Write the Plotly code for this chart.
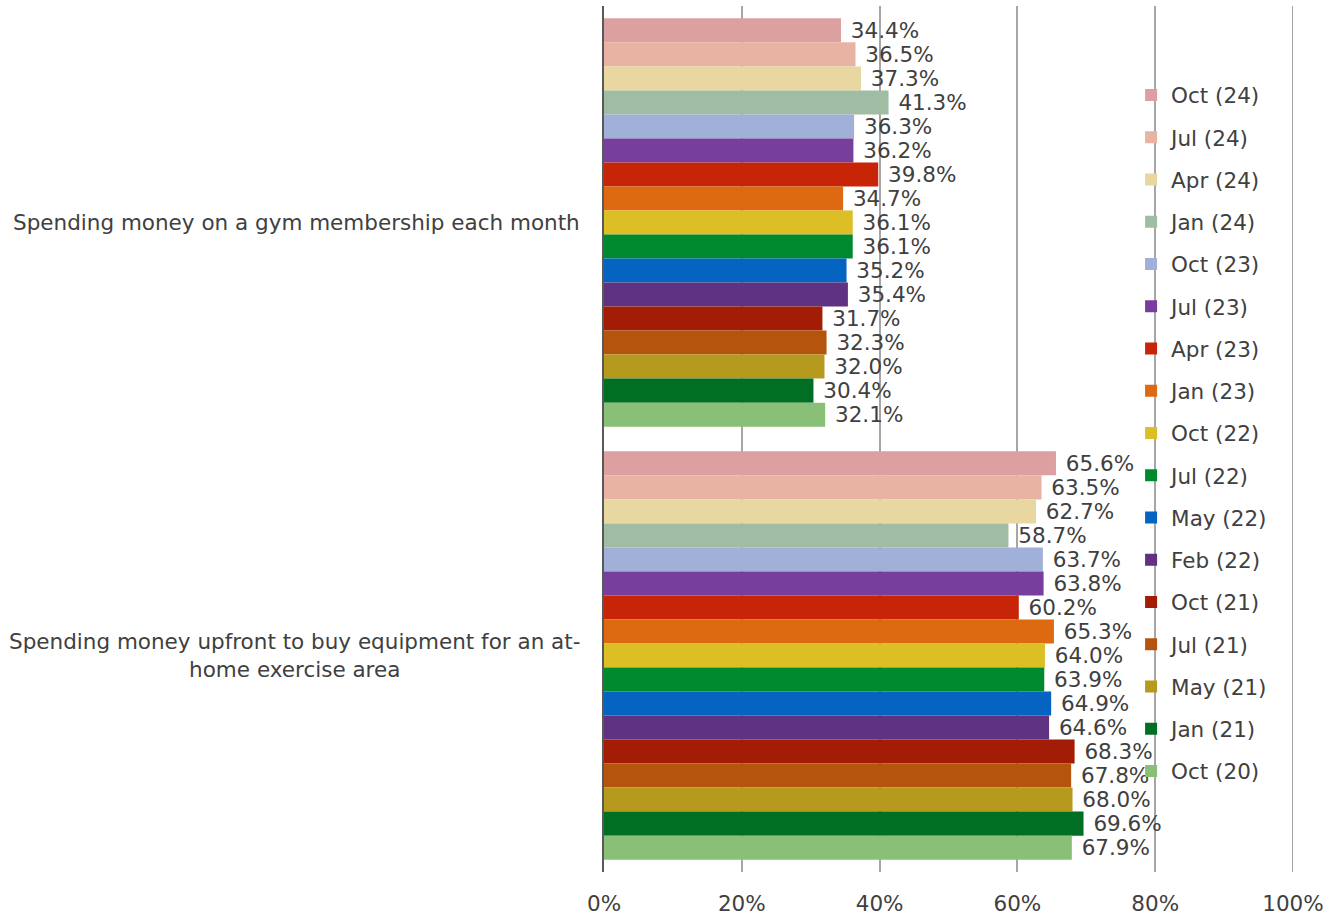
import plotly.graph_objects as go

# Survey statements (top to bottom)
categories = [
    "Spending money on a gym membership each month",
    "Spending money upfront to buy equipment for an at-<br>home exercise area",
]

# Survey waves, newest first
waves = [
    "Oct (24)", "Jul (24)", "Apr (24)", "Jan (24)", "Oct (23)", "Jul (23)",
    "Apr (23)", "Jan (23)", "Oct (22)", "Jul (22)", "May (22)", "Feb (22)",
    "Oct (21)", "Jul (21)", "May (21)", "Jan (21)", "Oct (20)",
]

# Share of respondents (%) per wave
gym_membership = [34.4, 36.5, 37.3, 41.3, 36.3, 36.2, 39.8, 34.7, 36.1,
                  36.1, 35.2, 35.4, 31.7, 32.3, 32.0, 30.4, 32.1]
home_equipment = [65.6, 63.5, 62.7, 58.7, 63.7, 63.8, 60.2, 65.3, 64.0,
                  63.9, 64.9, 64.6, 68.3, 67.8, 68.0, 69.6, 67.9]

wave_colors = [
    "#DDA0A0", "#E9B3A3", "#E8D7A0", "#A0BCA3", "#A0B0D8", "#773F9B",
    "#C82408", "#DD6910", "#DCBF24", "#008A30", "#0563C1", "#5F3282",
    "#A31C05", "#B5540C", "#B59A1E", "#006F24", "#8ABF78",
]

FONT = "Verdana, DejaVu Sans, sans-serif"
TEXT = "#404040"
FS = 21.5

fig = go.Figure()
for i, wave in enumerate(waves):
    fig.add_trace(go.Bar(
        y=categories,
        x=[gym_membership[i], home_equipment[i]],
        name=wave,
        orientation="h",
        legendgroup=wave,
        marker=dict(color=wave_colors[i], line=dict(width=0)),
        texttemplate="\u00a0%{x:.1f}%",
        textposition="outside",
        constraintext="none",
        cliponaxis=False,
        textfont=dict(family=FONT, size=FS, color=TEXT),
        hovertemplate="%{x:.1f}%<extra>" + wave + "</extra>",
    ))

# Category labels, centred line by line, to the left of the axis
for cat in categories:
    fig.add_annotation(
        x=0, xref="paper", xanchor="right", xshift=-22,
        y=cat, yref="y", yanchor="middle",
        text=cat, showarrow=False, align="center",
        font=dict(family=FONT, size=FS, color=TEXT),
    )

# Gridline at the 100% edge of the value axis
fig.add_shape(
    type="line", xref="x", yref="paper", x0=100, x1=100, y0=0, y1=1,
    line=dict(color="#A6A6A6", width=2), layer="below",
)

fig.update_layout(
    width=1336, height=917,
    margin=dict(l=604, r=43, t=6, b=45, autoexpand=False),
    paper_bgcolor="white", plot_bgcolor="white",
    barmode="group", bargap=0.057, bargroupgap=0,
    font=dict(family=FONT, size=FS, color=TEXT),
    showlegend=True,
    legend=dict(
        x=0.765, xanchor="left", y=0.921, yanchor="top",
        bgcolor="rgba(0,0,0,0)", borderwidth=0,
        tracegroupgap=11.3, traceorder="grouped",
        font=dict(family=FONT, size=FS, color=TEXT),
    ),
    xaxis=dict(
        range=[0, 100], dtick=20, ticksuffix="%",
        showgrid=True, gridcolor="#A6A6A6", gridwidth=2,
        zeroline=False, showline=False, automargin=False,
        ticks="outside", ticklen=12, tickcolor="rgba(0,0,0,0)",
        tickfont=dict(family=FONT, size=FS, color=TEXT),
    ),
    yaxis=dict(
        autorange="reversed", showticklabels=False, automargin=False,
        showline=True, linecolor="#595959", linewidth=2,
        showgrid=False, zeroline=False,
    ),
)

fig.write_html("out.html")
